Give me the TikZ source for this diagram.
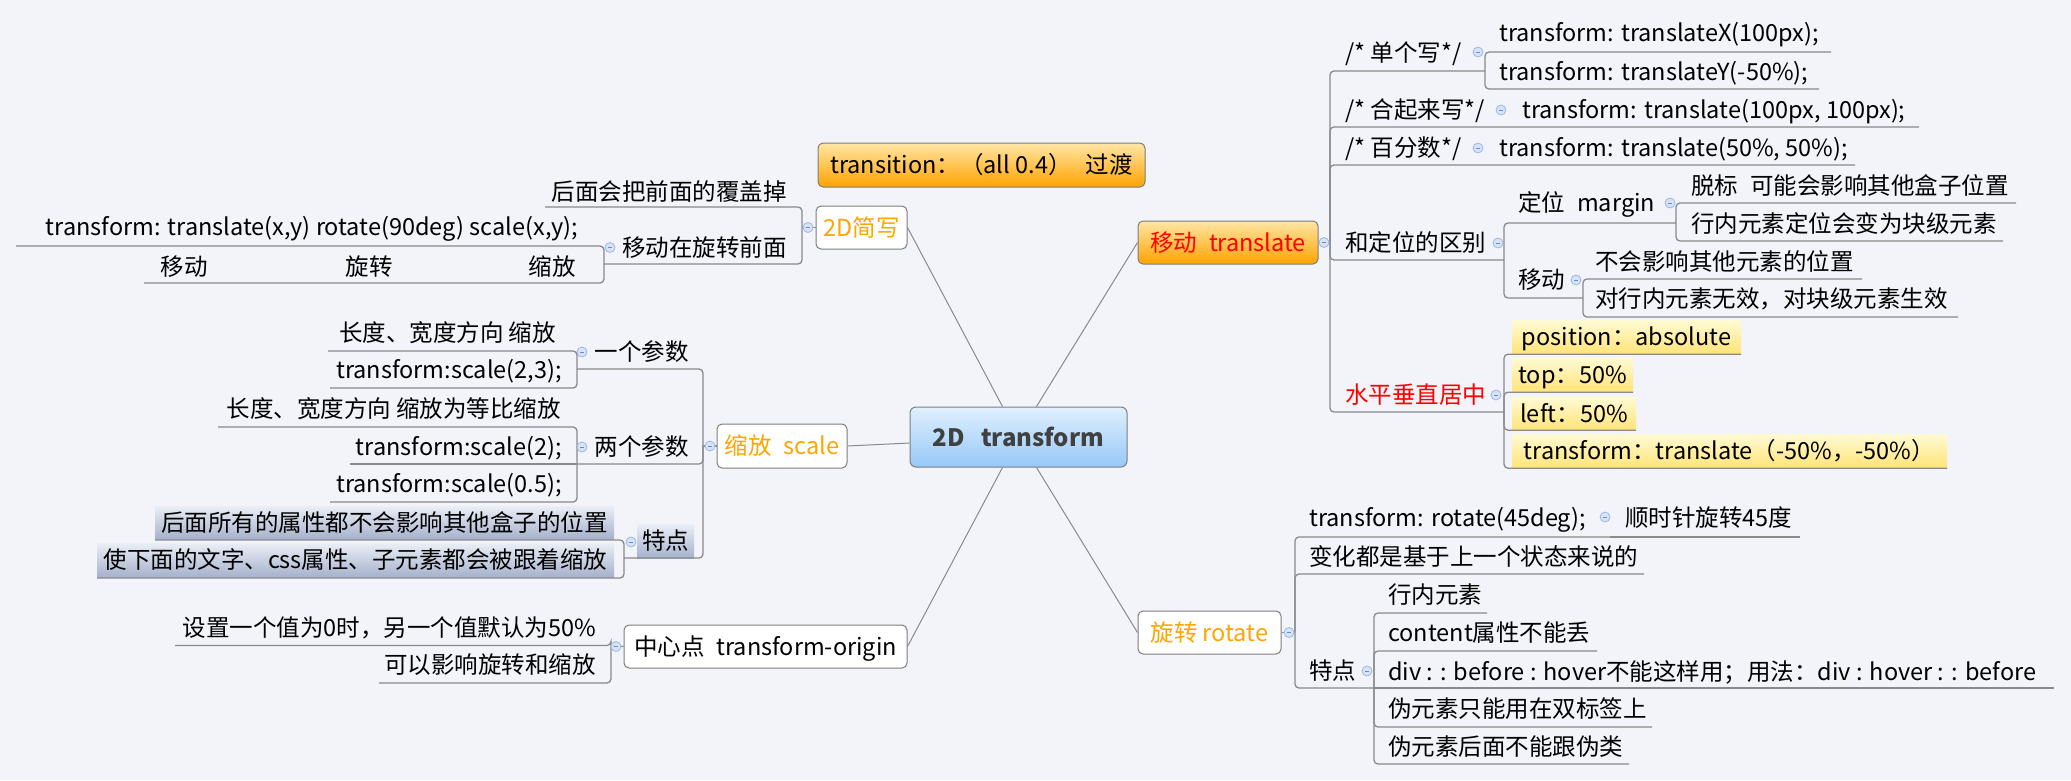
\documentclass[tikz,border=0pt]{standalone}
\usepackage{fontspec}
\setmainfont{Noto Sans CJK SC}
\definecolor{bgc}{RGB}{242,244,249}
\definecolor{linegray}{RGB}{138,138,138}
\definecolor{boxborder}{RGB}{125,125,125}
\definecolor{orgtop}{RGB}{255,230,165}
\definecolor{orgbot}{RGB}{255,163,0}
\definecolor{bluetop}{RGB}{224,240,255}
\definecolor{bluebot}{RGB}{150,200,248}
\definecolor{yeltop}{RGB}{255,250,212}
\definecolor{yelbot}{RGB}{255,228,120}
\definecolor{slatetop}{RGB}{234,238,246}
\definecolor{slatebot}{RGB}{166,178,204}
\definecolor{orangetxt}{RGB}{255,165,0}
\definecolor{redtxt}{RGB}{255,0,0}
\definecolor{roottxt}{RGB}{64,64,64}
\definecolor{txtc}{RGB}{0,0,0}
\definecolor{knobfill}{RGB}{214,226,246}
\definecolor{knobdraw}{RGB}{158,184,226}
\definecolor{knobline}{RGB}{110,140,205}
\newcommand\fsz{\fontsize{23.5}{28}\selectfont}
\begin{document}
\begin{tikzpicture}[x=1pt,y=-1pt,
  txt/.style={font=\fsz, text=txtc, inner sep=0pt, text height=20.7pt, text depth=2.8pt},
  conn/.style={draw=linegray, line width=1.3pt, rounded corners=4pt},
  spoke/.style={draw=linegray, line width=1pt},
  wbox/.style={draw=boxborder, fill=white, rounded corners=5pt, line width=1pt, inner sep=0pt,
    font=\fsz, text height=20.7pt, text depth=2.8pt},
  obox/.style={draw=boxborder, rounded corners=5pt, line width=1pt, top color=orgtop, bottom color=orgbot,
    inner sep=0pt, font=\fsz, text height=20.7pt, text depth=2.8pt},
  cbox/.style={draw=boxborder, rounded corners=6pt, line width=1pt, top color=bluetop, bottom color=bluebot,
    inner sep=0pt, font=\fontsize{24}{28}\selectfont\bfseries, text=roottxt},
  ybox/.style={top color=yeltop, bottom color=yelbot, inner sep=0pt, font=\fsz, text=txtc,
    text height=20.7pt, text depth=2.8pt},
  sbox/.style={top color=slatetop, bottom color=slatebot, inner sep=0pt, font=\fsz, text=txtc,
    text height=20.7pt, text depth=2.8pt},
  knob/.style={circle, minimum size=10pt, inner sep=0pt, draw=knobdraw, fill=knobfill, line width=0.8pt,
    path picture={\draw[knobline, line width=0.9pt] ([xshift=-2.4pt]path picture bounding box.center) -- ([xshift=2.4pt]path picture bounding box.center);}}
]
\fill[bgc] (0,0) rectangle (2071,780);
\useasboundingbox (0,0) rectangle (2071,780);

% ---------- main boxes ----------
\node[cbox, minimum width=217pt, minimum height=60pt] (root) at (1018.5,437) {2D\hspace{16pt}transform};
\node[obox, minimum width=327pt, minimum height=44pt, text=txtc] (trn) at (981.5,165) {transition：（all 0.4）\hspace{14pt}过渡};
\node[wbox, minimum width=91pt, minimum height=43pt, text=orangetxt] (jian) at (861.5,227.5) {2D简写};
\node[wbox, minimum width=130pt, minimum height=44pt, text=orangetxt] (scl) at (782,446) {缩放\hspace{12pt}scale};
\node[wbox, minimum width=283pt, minimum height=43pt, text=txtc] (orig) at (765.5,646.5) {中心点\hspace{12pt}transform-origin};
\node[obox, minimum width=180pt, minimum height=43pt, text=redtxt] (trans) at (1228,242.5) {移动\hspace{12pt}translate};
\node[wbox, minimum width=143pt, minimum height=43pt, text=orangetxt] (rot) at (1209.5,632.5) {旋转 rotate};

% ---------- spokes ----------
\draw[spoke] ([xshift=-16pt]root.north) -- (jian.east);
\draw[spoke] ([xshift=18pt]root.north) -- (trans.west);
\draw[spoke] (scl.east) -- ([yshift=-6pt]root.west);
\draw[spoke] ([xshift=-16pt]root.south) -- (orig.east);
\draw[spoke] ([xshift=18pt]root.south) -- (rot.west);

% ---------- highlight boxes ----------
\node[sbox, minimum width=57pt, minimum height=34pt] (b3) at (665.5,541) {特点};
\node[sbox, minimum width=459pt, minimum height=33pt] (b31) at (384.5,522.5) {后面所有的属性都不会影响其他盒子的位置};
\node[sbox, minimum width=517pt, minimum height=34pt] (b32) at (355.5,560) {使下面的文字、css属性、子元素都会被跟着缩放};
\node[ybox, minimum width=229pt, minimum height=34pt] (d51) at (1626.5,337) {position：absolute};
\node[ybox, minimum width=121pt, minimum height=34pt] (d52) at (1572.5,375) {top：50\%};
\node[ybox, minimum width=124pt, minimum height=33pt] (d53) at (1574,413.5) {left：50\%};
\node[ybox, minimum width=435pt, minimum height=34pt] (d54) at (1729.5,451) {transform：translate（-50\%，-50\%）};

% ---------- junctions ----------
\coordinate (jJ) at (802,227.5);
\coordinate (a2J) at (604,264);
\coordinate (sJ) at (703,446);
\coordinate (b1J) at (577,369);
\coordinate (b2J) at (577,464);
\coordinate (b3J) at (624,558);
\coordinate (oJ) at (611,645.5);
\coordinate (tJ) at (1330,242.5);
\coordinate (d1J) at (1485,71);
\coordinate (d4J) at (1504,260);
\coordinate (d41J) at (1676,223);
\coordinate (d42J) at (1583,298);
\coordinate (d5J) at (1504,412);
\coordinate (rJ) at (1295,632.5);
\coordinate (e1J) at (1610,537);
\coordinate (e3J) at (1374,688);

% ---------- left: 2D简写 ----------
\node[txt, anchor=east] (a1) at (787,192) {后面会把前面的覆盖掉};
\node[txt, anchor=east] (a2) at (787,248) {移动在旋转前面};
\node[txt, anchor=east] (a21) at (578,227) {transform: translate(x,y) rotate(90deg) scale(x,y);};
\node[txt, anchor=east] (a22) at (576,267) {移动\hspace{138pt}旋转\hspace{136pt}缩放};
\draw[conn] (jian.west) -- (jJ);
\draw[conn] (jJ) |- (545,207);
\draw[conn] (jJ) |- (a2J);
\draw[conn] (a2J) |- (16,246);
\draw[conn] (a2J) |- (144,283);

% ---------- left: 缩放 scale ----------
\node[txt, anchor=east] (b1) at (689,352) {一个参数};
\node[txt, anchor=east] (b11) at (556,333) {长度、宽度方向 缩放};
\node[txt, anchor=east] (b12) at (562,370) {transform:scale(2,3);};
\node[txt, anchor=east] (b2) at (689,447) {两个参数};
\node[txt, anchor=east] (b21) at (561,409) {长度、宽度方向 缩放为等比缩放};
\node[txt, anchor=east] (b22) at (562,447) {transform:scale(2);};
\node[txt, anchor=east] (b23) at (562,484) {transform:scale(0.5);};
\draw[conn] (scl.west) -- (sJ);
\draw[conn] (sJ) |- (b1J);
\draw[conn] (sJ) |- (b2J);
\draw[conn] (sJ) |- (b3J);
\draw[conn] (b1J) |- (328,351);
\draw[conn] (b1J) |- (330,388);
\draw[conn] (b2J) |- (218,427);
\draw[conn] (b2J) -- (350,464);
\draw[conn] (b2J) |- (330,502);
\draw[conn] (b3J) |- (155,540);
\draw[conn] (b3J) |- (97,578);

% ---------- left: 中心点 ----------
\node[txt, anchor=east] (c1) at (596,628) {设置一个值为0时，另一个值默认为50\%};
\node[txt, anchor=east] (c2) at (596,665) {可以影响旋转和缩放};
\draw[conn] (orig.west) -- (oJ);
\draw[conn] (oJ) |- (175,645.5);
\draw[conn] (oJ) |- (379,683);

% ---------- right: 移动 translate ----------
\node[txt, anchor=west] (d1) at (1345,53) {/* 单个写*/};
\node[txt, anchor=west] (d11) at (1499,33) {transform: translateX(100px);};
\node[txt, anchor=west] (d12) at (1499,72) {transform: translateY(-50\%);};
\node[txt, anchor=west] (d2) at (1345,110) {/* 合起来写*/};
\node[txt, anchor=west] (d21) at (1522,110) {transform: translate(100px, 100px);};
\node[txt, anchor=west] (d3) at (1345,148) {/* 百分数*/};
\node[txt, anchor=west] (d31) at (1499,148) {transform: translate(50\%, 50\%);};
\node[txt, anchor=west] (d4) at (1345,243) {和定位的区别};
\node[txt, anchor=west] (d41) at (1518,203) {定位\hspace{12pt}margin};
\node[txt, anchor=west] (d411) at (1691,186) {脱标\hspace{12pt}可能会影响其他盒子位置};
\node[txt, anchor=west] (d412) at (1691,224) {行内元素定位会变为块级元素};
\node[txt, anchor=west] (d42) at (1518,280) {移动};
\node[txt, anchor=west] (d421) at (1595,262) {不会影响其他元素的位置};
\node[txt, anchor=west] (d422) at (1595,299) {对行内元素无效，对块级元素生效};
\node[txt, anchor=west, text=redtxt] (d5) at (1345,395) {水平垂直居中};
\draw[conn] (trans.east) -- (tJ);
\draw[conn] (tJ) |- (d1J);
\draw[conn] (d1J) |- (1831,52);
\draw[conn] (d1J) |- (1819,89);
\draw[conn] (tJ) |- (1919,127);
\draw[conn] (tJ) |- (1855,165);
\draw[conn] (tJ) |- (d4J);
\draw[conn] (d4J) |- (d41J);
\draw[conn] (d41J) |- (2016,203);
\draw[conn] (d41J) |- (2003,241);
\draw[conn] (d4J) |- (d42J);
\draw[conn] (d42J) |- (1862,279);
\draw[conn] (d42J) |- (1958,317);
\draw[conn] (tJ) |- (d5J);
\draw[conn] (d5J) |- (d51.south east);
\draw[conn] (d5J) |- (d52.south east);
\draw[conn] (d5J) |- (d53.south east);
\draw[conn] (d5J) |- (d54.south east);

% ---------- right: 旋转 rotate ----------
\node[txt, anchor=west] (e1) at (1309,518) {transform: rotate(45deg);};
\node[txt, anchor=west] (e11) at (1625,518) {顺时针旋转45度};
\node[txt, anchor=west] (e2) at (1309,557) {变化都是基于上一个状态来说的};
\node[txt, anchor=west] (e3) at (1309,671) {特点};
\node[txt, anchor=west] (e31) at (1388,595) {行内元素};
\node[txt, anchor=west] (e32) at (1388,633) {content属性不能丢};
\node[txt, anchor=west] (e33) at (1388,672) {div : : before : hover不能这样用；用法：div : hover : : before};
\node[txt, anchor=west] (e34) at (1388,709) {伪元素只能用在双标签上};
\node[txt, anchor=west] (e35) at (1388,747) {伪元素后面不能跟伪类};
\draw[conn] (rot.east) -- (rJ);
\draw[conn] (rJ) |- (e1J);
\draw[conn] (e1J) -- (1800,537);
\draw[conn] (rJ) |- (1644,574);
\draw[conn] (rJ) |- (e3J);
\draw[conn] (e3J) |- (1487,613);
\draw[conn] (e3J) |- (1597,651);
\draw[conn] (e3J) -- (2054,688);
\draw[conn] (e3J) |- (1652,727);
\draw[conn] (e3J) |- (1629,764);

% ---------- knobs ----------
\node[knob] (k1) at (808,227.5) {};
\node[knob] (k2) at (610,247.5) {};
\node[knob] (k3) at (710,446) {};
\node[knob] (k4) at (582,352) {};
\node[knob] (k5) at (582,447) {};
\node[knob] (k6) at (631,542) {};
\node[knob] (k7) at (616,646.5) {};
\node[knob] (k8) at (1324,242.5) {};
\node[knob] (k9) at (1478,52) {};
\node[knob] (k10) at (1501,110) {};
\node[knob] (k11) at (1478,148) {};
\node[knob] (k12) at (1498,243) {};
\node[knob] (k13) at (1670,203) {};
\node[knob] (k14) at (1576,280) {};
\node[knob] (k15) at (1496,395) {};
\node[knob] (k16) at (1289,632.5) {};
\node[knob] (k17) at (1605,517) {};
\node[knob] (k18) at (1367,671) {};
\end{tikzpicture}
\end{document}
